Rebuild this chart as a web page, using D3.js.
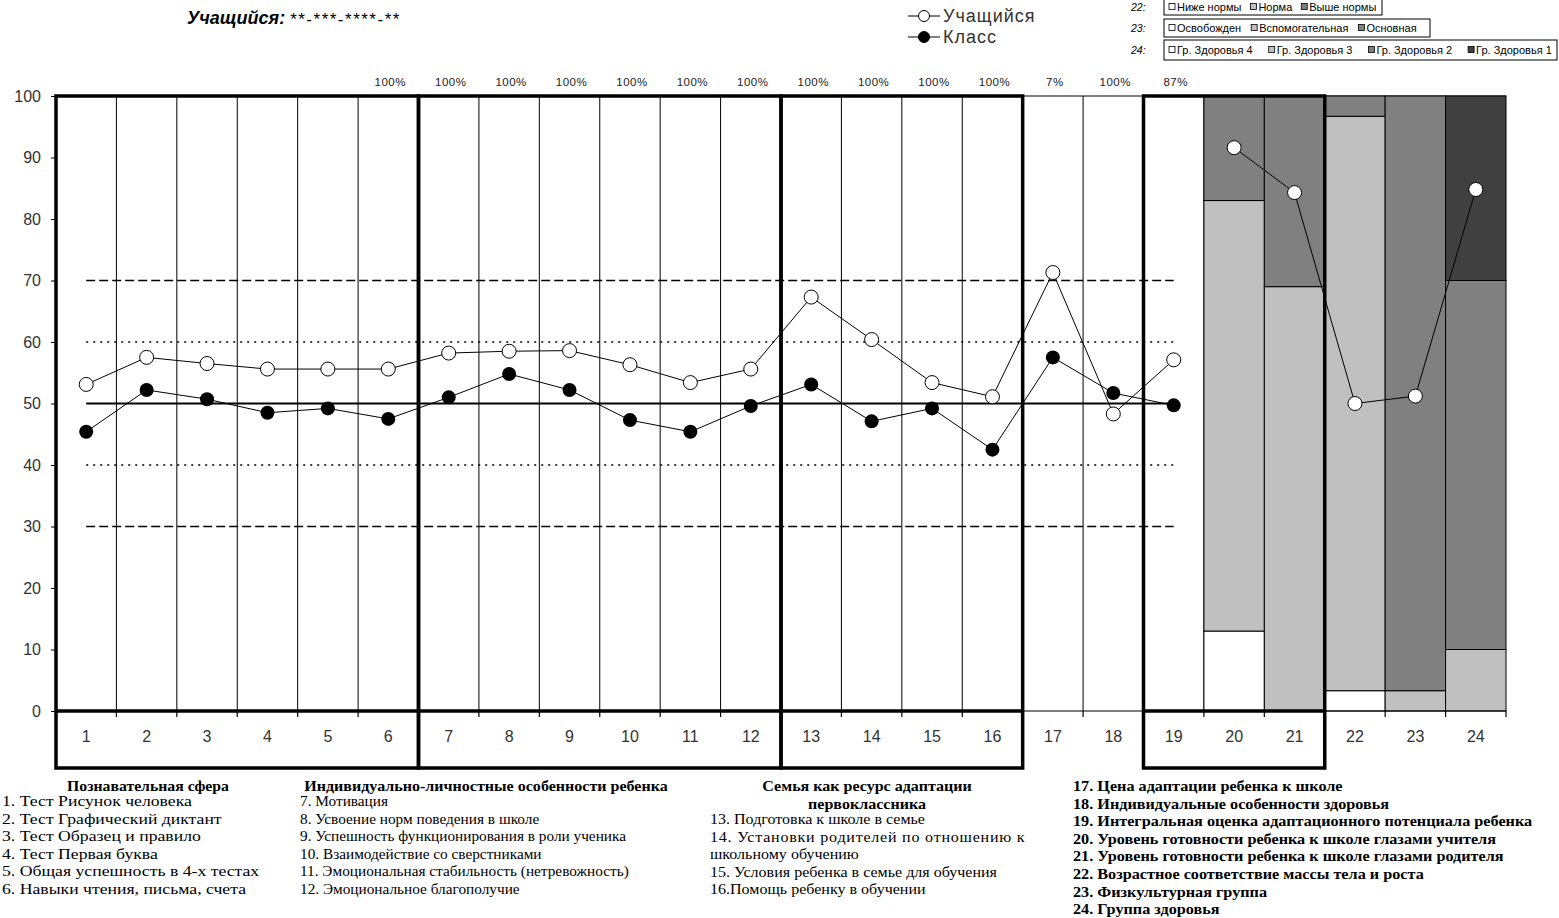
<!DOCTYPE html>
<html>
<head>
<meta charset="utf-8">
<script src="https://cdn.jsdelivr.net/npm/d3@7"></script>
<style>
  body { margin: 0; background: #fff; }
  svg { display: block; }
</style>
</head>
<body>
<div id="chart"></div>
<script>
/* global d3 */

/*******************************************************************
 * Data
 *******************************************************************/
const categories    = d3.range(1, 25).map(String);
const studentValues = [53.1, 57.5, 56.5, 55.6, 55.6, 55.6, 58.2, 58.5, 58.6, 56.3, 53.4, 55.6,
                       67.3, 60.4, 53.4, 51.1, 71.3, 48.3, 57.1, 91.6, 84.3, 50.0, 51.2, 84.8];
const classValues   = [45.4, 52.2, 50.7, 48.5, 49.2, 47.5, 51.0, 54.8, 52.2, 47.3, 45.4, 49.6,
                       53.1, 47.1, 49.2, 42.5, 57.5, 51.7, 49.7];
const percentLabels = ["", "", "", "", "", "100%", "100%", "100%", "100%", "100%", "100%", "100%",
                       "100%", "100%", "100%", "100%", "7%", "100%", "87%"];
const yTicks        = d3.range(0, 101, 10);

// stacked columns 20..24 (bottom to top)
const stackCategories = ["20", "21", "22", "23", "24"];
const stack20 = [13, 70, 17];
const stack21 = [0, 69, 31];
const stack22 = [3.3, 93.4, 3.3];
const stack23 = [0, 3.3, 96.7];
const stack24 = [0, 10, 60, 30];

const legend22 = ["Ниже нормы", "Норма", "Выше нормы"];
const legend23 = ["Освобожден", "Вспомогательная", "Основная"];
const legend24 = ["Гр. Здоровья 4", "Гр. Здоровья 3", "Гр. Здоровья 2", "Гр. Здоровья 1"];

// bold framed groups of columns
const groups = [["1", "6"], ["7", "12"], ["13", "16"], ["19", "21"]];
// reference levels
const solidLevels  = [50];
const dottedLevels = [60, 40];
const dashedLevels = [70, 30];

const notes1Title = ["Познавательная сфера"];
const notes1 = ["1. Тест Рисунок человека", "2. Тест Графический диктант", "3. Тест Образец и правило",
                "4. Тест Первая буква", "5. Общая успешность в 4-х тестах", "6. Навыки чтения, письма, счета"];
const notes2Title = ["Индивидуально-личностные особенности ребенка"];
const notes2 = ["7. Мотивация", "8. Усвоение норм поведения в школе", "9. Успешность функционирования в роли ученика",
                "10. Взаимодействие со сверстниками", "11. Эмоциональная стабильность (нетревожность)",
                "12. Эмоциональное благополучие"];
const notes3Title = ["Семья как ресурс адаптации", "первоклассника"];
const notes3 = ["13. Подготовка к школе в семье", "14.  Установки  родителей  по  отношению  к",
                "школьному обучению", "15. Условия ребенка в семье для обучения", "16.Помощь ребенку в обучении"];
const notes4 = ["17. Цена адаптации ребенка к школе", "18. Индивидуальные особенности здоровья",
                "19. Интегральная оценка адаптационного потенциала ребенка",
                "20. Уровень готовности ребенка к школе глазами учителя",
                "21. Уровень готовности ребенка к школе глазами родителя",
                "22. Возрастное соответствие  массы тела и роста", "23. Физкультурная группа", "24. Группа здоровья"];

/*******************************************************************
 * Setup
 *******************************************************************/
const W = 1559, H = 918;
const greys = ["#ffffff", "#c0c0c0", "#808080", "#404040"];
const SANS  = "Arial, 'Liberation Sans', sans-serif";
const SERIF = "'Times New Roman', 'Liberation Serif', serif";
const NARROW = "'Liberation Sans Narrow', 'Arial Narrow', 'Liberation Sans', sans-serif";

const svg = d3.select("#chart").append("svg").attr("width", W).attr("height", H);

const x = d3.scaleBand().domain(categories).range([56, 1506]).padding(0);
const y = d3.scaleLinear().domain([0, 100]).range([711, 96]);
const bw = x.bandwidth();
const cx = (c) => x(c) + bw / 2;
const labelBottom = 768;

/*******************************************************************
 * Plot background: grid, stacked columns
 *******************************************************************/
const grid = svg.append("g");
// vertical separators for columns 1..19
categories.slice(0, 19).forEach((c) => {
  grid.append("line")
    .attr("x1", x(c) + bw).attr("x2", x(c) + bw)
    .attr("y1", y(100)).attr("y2", y(0))
    .attr("stroke", "#000").attr("stroke-width", 1);
});
// thin top border
grid.append("line").attr("x1", x("1")).attr("x2", x("24") + bw)
  .attr("y1", y(100)).attr("y2", y(100)).attr("stroke", "#000").attr("stroke-width", 1);

const stacks = [stack20, stack21, stack22, stack23, stack24];
const stackG = svg.append("g");
stacks.forEach((vals, i) => {
  const c = stackCategories[i];
  let acc = 0;
  vals.forEach((v, j) => {
    if (v <= 0) return;
    stackG.append("rect")
      .attr("x", x(c)).attr("width", bw)
      .attr("y", y(acc + v)).attr("height", y(acc) - y(acc + v))
      .attr("fill", greys[j]).attr("stroke", "#000").attr("stroke-width", 1);
    acc += v;
  });
});

/*******************************************************************
 * Reference levels
 *******************************************************************/
const refG = svg.append("g");
const refX1 = cx("1"), refX2 = cx("19");
solidLevels.forEach((v) => refG.append("line")
  .attr("x1", refX1).attr("x2", refX2).attr("y1", y(v)).attr("y2", y(v))
  .attr("stroke", "#000").attr("stroke-width", 2.2));
dottedLevels.forEach((v) => refG.append("line")
  .attr("x1", refX1).attr("x2", refX2).attr("y1", y(v)).attr("y2", y(v))
  .attr("stroke", "#000").attr("stroke-width", 1.3).attr("stroke-dasharray", "2,5"));
dashedLevels.forEach((v) => refG.append("line")
  .attr("x1", refX1).attr("x2", refX2).attr("y1", y(v)).attr("y2", y(v))
  .attr("stroke", "#000").attr("stroke-width", 1.3).attr("stroke-dasharray", "9,4"));

/*******************************************************************
 * Axes
 *******************************************************************/
const yAxis = svg.append("g")
  .attr("transform", `translate(${x("1")},0)`)
  .call(d3.axisLeft(y).tickValues(yTicks).tickSize(5).tickPadding(10));
yAxis.select(".domain").remove();
yAxis.selectAll("text").attr("font-family", SANS).attr("font-size", 16).attr("fill", "#333");
yAxis.selectAll("line").attr("stroke", "#000");

// baseline + boundary ticks
svg.append("line").attr("x1", x("1")).attr("x2", x("24") + bw)
  .attr("y1", y(0)).attr("y2", y(0)).attr("stroke", "#000").attr("stroke-width", 1.2);
categories.forEach((c) => {
  svg.append("line").attr("x1", x(c) + bw).attr("x2", x(c) + bw)
    .attr("y1", y(0)).attr("y2", y(0) + 6).attr("stroke", "#000").attr("stroke-width", 1.2);
});
const xAxis = svg.append("g")
  .attr("transform", `translate(0,${y(0)})`)
  .call(d3.axisBottom(x).tickSize(0).tickPadding(20));
xAxis.select(".domain").remove();
xAxis.selectAll("text").attr("font-family", SANS).attr("font-size", 16).attr("fill", "#333");

// percentages above columns
svg.append("g").selectAll("text").data(percentLabels).enter().append("text")
  .attr("x", (d, i) => cx(categories[i]) + 2)
  .attr("y", 86)
  .attr("text-anchor", "middle")
  .attr("font-family", SANS).attr("font-size", 11.5).attr("letter-spacing", 0.5).attr("fill", "#222")
  .text((d) => d);

/*******************************************************************
 * Bold group frames
 *******************************************************************/
const frameG = svg.append("g").attr("fill", "none").attr("stroke", "#000").attr("stroke-width", 3.5);
groups.forEach(([a, b]) => {
  const x0 = x(a), x1 = x(b) + bw;
  frameG.append("rect").attr("x", x0).attr("y", y(100))
    .attr("width", x1 - x0).attr("height", labelBottom - y(100));
  frameG.append("line").attr("x1", x0).attr("x2", x1).attr("y1", y(0)).attr("y2", y(0));
});

/*******************************************************************
 * Lines & markers
 *******************************************************************/
const line = d3.line().x((d) => cx(d.c)).y((d) => y(d.v));
const studentPts = studentValues.map((v, i) => ({ c: categories[i], v }));
const classPts   = classValues.map((v, i) => ({ c: categories[i], v }));

const seriesG = svg.append("g");
[studentPts.slice(0, 19), studentPts.slice(19)].forEach((seg) => {
  seriesG.append("path").attr("d", line(seg))
    .attr("fill", "none").attr("stroke", "#000").attr("stroke-width", 1);
});
seriesG.selectAll(".st").data(studentPts).enter().append("circle")
  .attr("cx", (d) => cx(d.c)).attr("cy", (d) => y(d.v)).attr("r", 7)
  .attr("fill", "#fff").attr("stroke", "#000").attr("stroke-width", 1);

seriesG.append("path").attr("d", line(classPts))
  .attr("fill", "none").attr("stroke", "#000").attr("stroke-width", 1);
seriesG.selectAll(".cl").data(classPts).enter().append("circle")
  .attr("cx", (d) => cx(d.c)).attr("cy", (d) => y(d.v)).attr("r", 7)
  .attr("fill", "#000");

/*******************************************************************
 * Title & legends
 *******************************************************************/
const title = svg.append("text").attr("x", 187).attr("y", 24)
  .attr("font-family", SANS).attr("fill", "#000");
title.append("tspan").attr("font-size", 18).attr("font-weight", "bold").attr("font-style", "italic")
  .text("Учащийся: ");
title.append("tspan").attr("font-size", 17).attr("letter-spacing", 1.5).attr("dy", 1).text("**-***-****-**");

const lg = svg.append("g");
[["Учащийся", "#fff", 16], ["Класс", "#000", 37]].forEach(([name, fill, ly]) => {
  lg.append("line").attr("x1", 908).attr("x2", 940).attr("y1", ly).attr("y2", ly)
    .attr("stroke", "#000").attr("stroke-width", 1);
  lg.append("circle").attr("cx", 924).attr("cy", ly).attr("r", 5.5)
    .attr("fill", fill).attr("stroke", "#000").attr("stroke-width", 1);
  lg.append("text").attr("x", 943).attr("y", ly + 6)
    .attr("font-family", SANS).attr("font-size", 18).attr("letter-spacing", 1).attr("fill", "#333").text(name);
});

function boxLegend(num, items, top, h, right, gap) {
  const g = svg.append("g");
  g.append("text").attr("x", 1131).attr("y", top + h / 2 + 4)
    .attr("font-family", SANS).attr("font-style", "italic").attr("font-size", 10.5).text(num + ":");
  g.append("rect").attr("x", 1164).attr("y", top).attr("width", right - 1164).attr("height", h)
    .attr("fill", "#fff").attr("stroke", "#000").attr("stroke-width", 1);
  let px = 1169;
  items.forEach((t, i) => {
    g.append("rect").attr("x", px).attr("y", top + h / 2 - 3.5).attr("width", 6).attr("height", 6)
      .attr("fill", greys[i]).attr("stroke", "#000").attr("stroke-width", 0.8);
    const tx = g.append("text").attr("x", px + 8).attr("y", top + h / 2 + 4)
      .attr("font-family", NARROW).attr("font-size", 11).attr("fill", "#000").text(t);
    px += 8 + tx.node().getComputedTextLength() + gap;
  });
}
boxLegend("22", legend22, -1, 16, 1382, 9);
boxLegend("23", legend23, 19, 18, 1430, 10);
boxLegend("24", legend24, 40, 20, 1557, 16);

/*******************************************************************
 * Footnotes
 *******************************************************************/
const FS = 15, LH = 17.6;
function notes(lines, x0, y0, opts = {}) {
  const g = svg.append("g").attr("transform", `translate(${x0},0) scale(${opts.sx || 1},1)`);
  lines.forEach((t, i) => {
    const tx = g.append("text")
      .attr("x", 0).attr("y", y0 + i * LH)
      .attr("font-family", SERIF).attr("font-size", FS).attr("fill", "#000")
      .attr("font-weight", opts.bold ? "bold" : "normal")
      .attr("text-anchor", opts.anchor || "start")
      .text(t);
    if (opts.justify && opts.justify[i]) tx.attr("textLength", opts.justify[i]).attr("lengthAdjust", "spacing");
  });
}
notes(notes1Title, 148, 791, { bold: true, anchor: "middle", sx: 1.05 });
notes(notes1, 2, 806, { sx: 1.18 });
notes(notes2Title, 486, 791, { bold: true, anchor: "middle", sx: 1.07 });
notes(notes2, 300, 806, { sx: 1.02 });
notes(notes3Title, 867, 791, { bold: true, anchor: "middle", sx: 1.07 });
notes(notes3, 710, 824, { sx: 1.07, justify: { 1: 294 } });
notes(notes4, 1073, 791, { bold: true, sx: 1.08 });
</script>
</body>
</html>
